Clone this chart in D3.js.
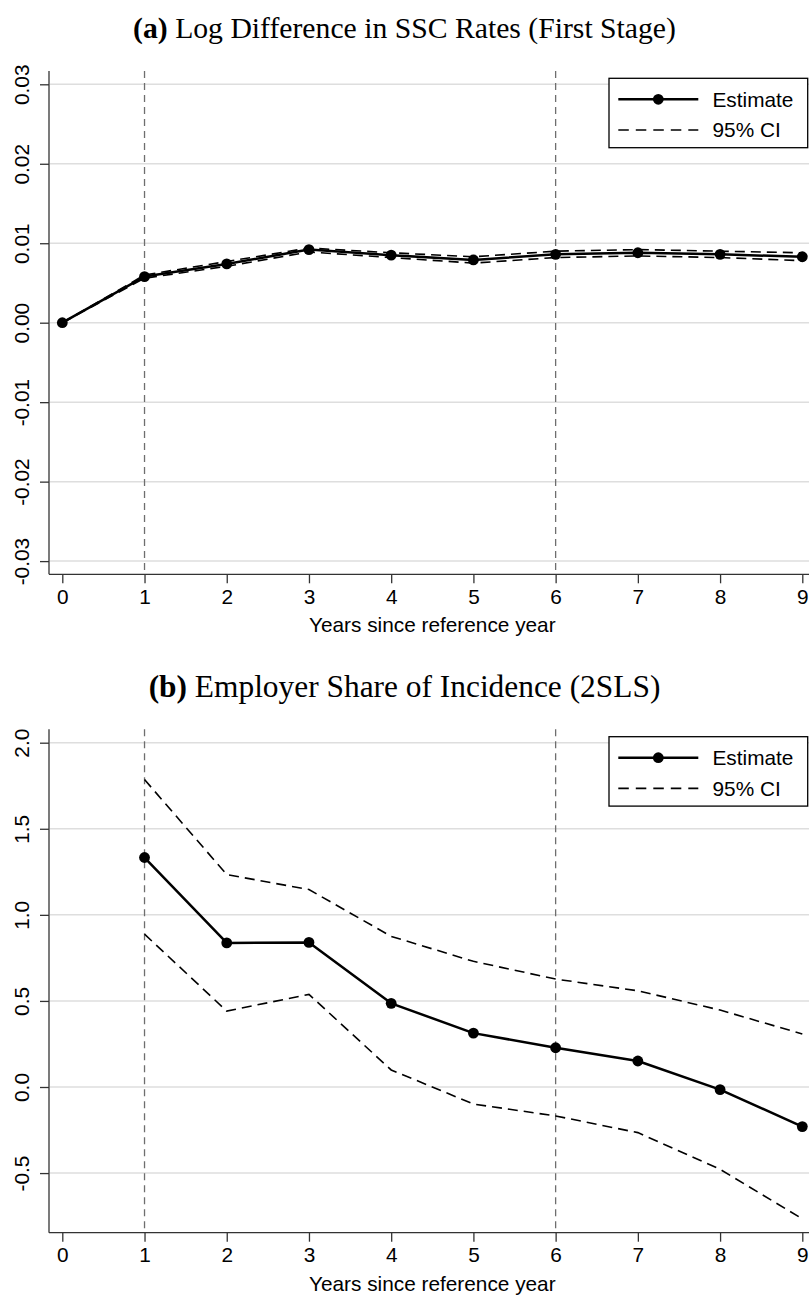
<!DOCTYPE html>
<html>
<head>
<meta charset="utf-8">
<script src="https://cdn.jsdelivr.net/npm/d3@7"></script>
<style>
  html, body { margin: 0; padding: 0; background: #fff; }
  svg { display: block; }
</style>
</head>
<body>
<svg id="chart" width="809" height="1297"></svg>
<script>
// ---- data ----
const years = [0, 1, 2, 3, 4, 5, 6, 7, 8, 9];
const xTicks = [0, 1, 2, 3, 4, 5, 6, 7, 8, 9];
const refLines = [1, 6];

// Panel (a): Log difference in SSC rates (first stage)
const aEstimate = [0.0000, 0.0058, 0.0074, 0.0092, 0.0085, 0.0079, 0.0086, 0.0088, 0.0086, 0.0083];
const aUpper    = [0.0000, 0.0060, 0.0077, 0.0094, 0.0088, 0.0083, 0.0090, 0.0092, 0.0090, 0.0088];
const aLower    = [0.0000, 0.0056, 0.0071, 0.0089, 0.0082, 0.0075, 0.0082, 0.0084, 0.0082, 0.0078];
const aTicks = [-0.03, -0.02, -0.01, 0.00, 0.01, 0.02, 0.03];
const aTickLabels = ["-0.03", "-0.02", "-0.01", "0.00", "0.01", "0.02", "0.03"];

// Panel (b): Employer share of incidence (2SLS)
const bYears    = [1, 2, 3, 4, 5, 6, 7, 8, 9];
const bEstimate = [1.333, 0.837, 0.840, 0.486, 0.313, 0.228, 0.151, -0.015, -0.230];
const bUpper    = [1.786, 1.234, 1.147, 0.875, 0.730, 0.627, 0.559, 0.447, 0.308];
const bLower    = [0.888, 0.441, 0.538, 0.099, -0.099, -0.168, -0.265, -0.478, -0.766];
const bTicks = [-0.5, 0.0, 0.5, 1.0, 1.5, 2.0];
const bTickLabels = ["-0.5", "0.0", "0.5", "1.0", "1.5", "2.0"];

const titleA = ["(a)", " Log Difference in SSC Rates (First Stage)"];
const titleB = ["(b)", " Employer Share of Incidence (2SLS)"];
const xTitle = "Years since reference year";
const legendLabels = ["Estimate", "95% CI"];

// ---- drawing ----
const svg = d3.select("#chart");
const W = 809;
const sans = "'Liberation Sans', Arial, Helvetica, sans-serif";
const serif = "'Liberation Serif', 'Times New Roman', serif";
const FS = 20.8;

const x = d3.scaleLinear().domain([0, 9]).range([62.3, 802.3]);
const plotLeft = 49, plotRight = 809;

function panel(cfg) {
  const g = svg.append("g");
  const y = cfg.y;

  // title
  const t = g.append("text")
    .attr("x", W / 2).attr("y", cfg.titleY)
    .attr("text-anchor", "middle")
    .attr("font-family", serif)
    .attr("font-size", 26)
    .attr("fill", "#000");
  t.append("tspan").attr("font-weight", "bold").text(cfg.title[0]);
  t.append("tspan").text(cfg.title[1]);
  const w0 = t.node().getComputedTextLength();
  t.attr("font-size", 26 * cfg.titleW / w0);

  // gridlines
  g.append("g").selectAll("line").data(cfg.ticks).join("line")
    .attr("x1", plotLeft + 1).attr("x2", plotRight)
    .attr("y1", d => y(d)).attr("y2", d => y(d))
    .attr("stroke", "#dedede").attr("stroke-width", 1.5);

  // reference vertical dashed lines
  g.append("g").selectAll("line").data(refLines).join("line")
    .attr("x1", d => x(d)).attr("x2", d => x(d))
    .attr("y1", cfg.top).attr("y2", cfg.bottom)
    .attr("stroke", "#6e6e6e").attr("stroke-width", 1.3)
    .attr("stroke-dasharray", "7,5");

  // y axis
  const yAxis = d3.axisLeft(y).tickValues(cfg.ticks)
    .tickFormat((d, i) => cfg.tickLabels[i]).tickSize(9).tickPadding(0);
  const ya = g.append("g").attr("transform", `translate(${plotLeft},0)`).call(yAxis);
  ya.select(".domain").remove();
  ya.selectAll(".tick line").attr("stroke", "#333").attr("stroke-width", 1.3);
  ya.selectAll(".tick text")
    .attr("font-family", sans).attr("font-size", FS).attr("fill", "#000")
    .attr("text-anchor", "middle")
    .attr("x", null).attr("dy", null)
    .attr("transform", "translate(-19.7,0) rotate(-90)");
  g.append("line").attr("x1", plotLeft).attr("x2", plotLeft)
    .attr("y1", cfg.top).attr("y2", cfg.bottom)
    .attr("stroke", "#333").attr("stroke-width", 1.3);

  // x axis
  const xAxis = d3.axisBottom(x).tickValues(xTicks).tickSize(9).tickPadding(5);
  const xa = g.append("g").attr("transform", `translate(0,${cfg.bottom})`).call(xAxis);
  xa.select(".domain").remove();
  xa.selectAll(".tick line").attr("stroke", "#333").attr("stroke-width", 1.3);
  xa.selectAll(".tick text")
    .attr("font-family", sans).attr("font-size", FS).attr("fill", "#000")
    .attr("dy", null).attr("y", 29.5);
  g.append("line").attr("x1", plotLeft).attr("x2", plotRight)
    .attr("y1", cfg.bottom).attr("y2", cfg.bottom)
    .attr("stroke", "#333").attr("stroke-width", 1.3);

  g.append("text")
    .attr("x", x(4.5)).attr("y", cfg.bottom + 58)
    .attr("text-anchor", "middle")
    .attr("font-family", sans).attr("font-size", FS).attr("fill", "#000")
    .text(xTitle);

  // CI lines
  const line = d3.line().x(d => x(d[0])).y(d => y(d[1]));
  [cfg.upper, cfg.lower].forEach(arr => {
    g.append("path")
      .datum(cfg.xs.map((v, i) => [v, arr[i]]))
      .attr("d", line)
      .attr("fill", "none").attr("stroke", "#000")
      .attr("stroke-width", 1.6).attr("stroke-dasharray", "10,6");
  });

  // estimate
  const est = cfg.xs.map((v, i) => [v, cfg.est[i]]);
  g.append("path").datum(est).attr("d", line)
    .attr("fill", "none").attr("stroke", "#000").attr("stroke-width", 2.5)
    .attr("stroke-linejoin", "round");
  g.append("g").selectAll("circle").data(est).join("circle")
    .attr("cx", d => x(d[0])).attr("cy", d => y(d[1]))
    .attr("r", 5.4).attr("fill", "#000");

  // legend
  const L = g.append("g").attr("transform", `translate(0,${cfg.legendTop})`);
  L.append("rect").attr("x", 609).attr("y", 0).attr("width", 198.7).attr("height", 69.4)
    .attr("fill", "#fff").attr("stroke", "#000").attr("stroke-width", 1.3);
  L.append("line").attr("x1", 618.3).attr("x2", 698.3).attr("y1", 21).attr("y2", 21)
    .attr("stroke", "#000").attr("stroke-width", 2.5);
  L.append("circle").attr("cx", 658.3).attr("cy", 21).attr("r", 5.4).attr("fill", "#000");
  L.append("line").attr("x1", 618.3).attr("x2", 698.3).attr("y1", 51.7).attr("y2", 51.7)
    .attr("stroke", "#000").attr("stroke-width", 1.6).attr("stroke-dasharray", "10.5,7");
  L.append("text").attr("x", 712.5).attr("y", 21).attr("dy", "0.35em")
    .attr("font-family", sans).attr("font-size", FS).text(legendLabels[0]);
  L.append("text").attr("x", 712.5).attr("y", 51.7).attr("dy", "0.35em")
    .attr("font-family", sans).attr("font-size", FS).text(legendLabels[1]);
}

panel({
  title: titleA, titleY: 38, titleW: 543,
  top: 71, bottom: 574.3,
  y: d3.scaleLinear().domain([0, 0.03]).range([322.7, 84.3]),
  ticks: aTicks, tickLabels: aTickLabels,
  xs: years, est: aEstimate, upper: aUpper, lower: aLower,
  legendTop: 78.3
});

panel({
  title: titleB, titleY: 697, titleW: 512,
  top: 729.3, bottom: 1232.7,
  y: d3.scaleLinear().domain([0, 2]).range([1087, 742.7]),
  ticks: bTicks, tickLabels: bTickLabels,
  xs: bYears, est: bEstimate, upper: bUpper, lower: bLower,
  legendTop: 736.7
});
</script>
</body>
</html>
